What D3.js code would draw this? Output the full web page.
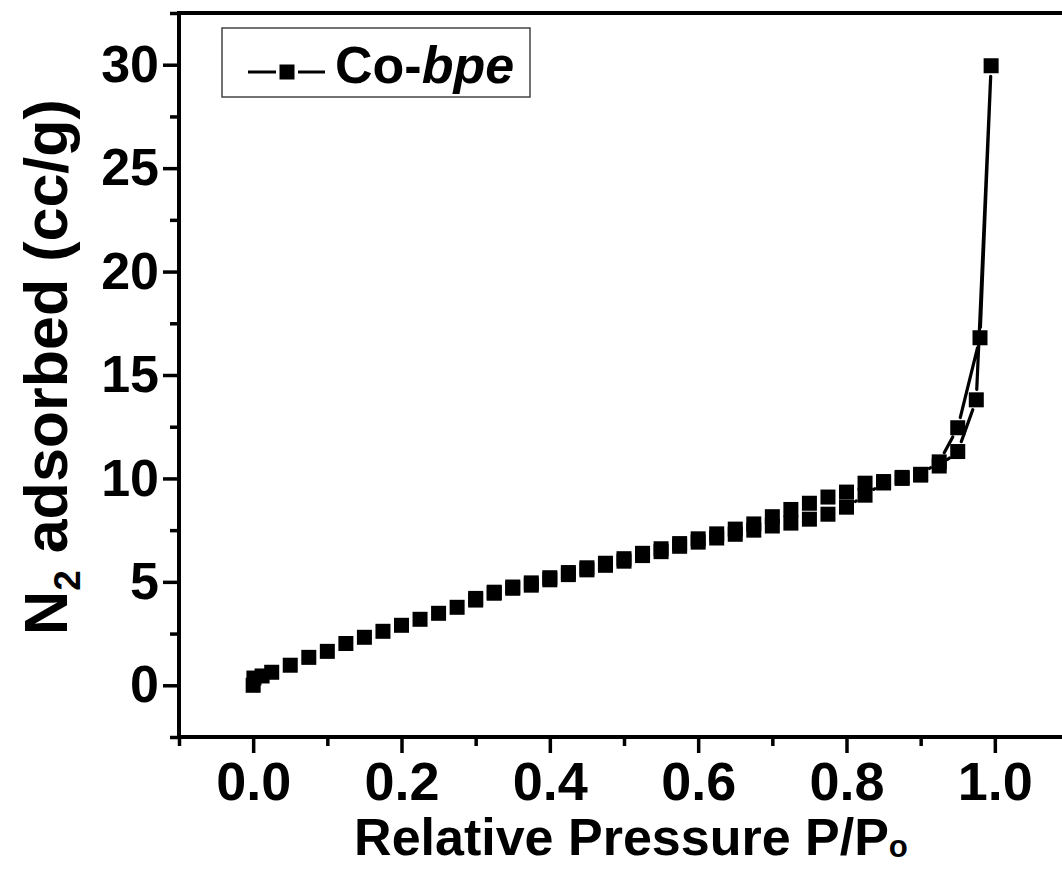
<!DOCTYPE html>
<html>
<head>
<meta charset="utf-8">
<script src="https://cdn.jsdelivr.net/npm/d3@7"></script>
<style>
  html, body { margin: 0; padding: 0; background: #fff; }
  svg { display: block; }
  text { font-family: "Liberation Sans", Arial, sans-serif; font-weight: bold; fill: #000; }
</style>
</head>
<body>
<svg id="chart" width="1062" height="869"></svg>
<script>
// ---- data ----
const adsorptionX = [0.000, 0.001, 0.012, 0.025, 0.050, 0.075, 0.100, 0.125, 0.150, 0.175, 0.200, 0.225, 0.250, 0.275, 0.300, 0.325, 0.350, 0.375, 0.400, 0.425, 0.450, 0.475, 0.500, 0.525, 0.550, 0.575, 0.600, 0.625, 0.650, 0.675, 0.700, 0.725, 0.750, 0.775, 0.800, 0.825, 0.850, 0.875, 0.900, 0.925, 0.950, 0.975, 0.995];
const adsorptionY = [0.00, 0.35, 0.45, 0.63, 0.97, 1.35, 1.64, 2.02, 2.32, 2.61, 2.90, 3.19, 3.48, 3.77, 4.12, 4.45, 4.69, 4.84, 5.10, 5.35, 5.58, 5.80, 6.00, 6.27, 6.46, 6.72, 6.92, 7.12, 7.30, 7.50, 7.70, 7.84, 8.03, 8.27, 8.61, 9.19, 9.78, 10.00, 10.16, 10.60, 11.30, 13.80, 29.95];
const desorptionX = [0.995, 0.980, 0.950, 0.925, 0.900, 0.875, 0.850, 0.825, 0.800, 0.775, 0.750, 0.725, 0.700, 0.675, 0.650, 0.625, 0.600, 0.575, 0.550, 0.525, 0.500, 0.475, 0.450, 0.425, 0.400, 0.375, 0.350, 0.325, 0.300];
const desorptionY = [29.95, 16.80, 12.45, 10.80, 10.20, 10.05, 9.85, 9.77, 9.34, 9.10, 8.80, 8.50, 8.15, 7.80, 7.55, 7.32, 7.08, 6.85, 6.60, 6.38, 6.12, 5.90, 5.68, 5.45, 5.20, 4.95, 4.75, 4.50, 4.20];
const seriesName = ["Co-", "bpe"];
const xTickValues = [0.0, 0.2, 0.4, 0.6, 0.8, 1.0];
const xMinorValues = [-0.1, 0.1, 0.3, 0.5, 0.7, 0.9];
const yTickValues = [0, 5, 10, 15, 20, 25, 30];
const yMinorValues = [-2.5, 2.5, 7.5, 12.5, 17.5, 22.5, 27.5, 32.5];

const svg = d3.select("#chart");
const x = d3.scaleLinear().domain([-0.1, 1.1]).range([179, 1069]);
const y = d3.scaleLinear().domain([-2.5, 32.5]).range([737, 13]);

const FS = 52;
const AXW = 4;

// minor ticks
const gxMinor = svg.append("g").attr("transform", `translate(0,${y(-2.5)})`)
  .call(d3.axisBottom(x).tickValues(xMinorValues).tickSize(9).tickFormat(""));
const gyMinor = svg.append("g").attr("transform", `translate(${x(-0.1)},0)`)
  .call(d3.axisLeft(y).tickValues(yMinorValues).tickSize(9).tickFormat(""));

// major ticks
const gx = svg.append("g").attr("transform", `translate(0,${y(-2.5)})`)
  .call(d3.axisBottom(x).tickValues(xTickValues).tickSize(16).tickPadding(9).tickFormat(d3.format(".1f")));
const gy = svg.append("g").attr("transform", `translate(${x(-0.1)},0)`)
  .call(d3.axisLeft(y).tickValues(yTickValues).tickSize(16).tickPadding(4).tickFormat(d3.format("d")));

[gxMinor, gyMinor, gx, gy].forEach(g => {
  g.selectAll(".domain").remove();
  g.selectAll(".tick line").attr("stroke", "#000").attr("stroke-width", 3.5);
  g.selectAll(".tick text").attr("font-family", '"Liberation Sans", Arial, sans-serif').attr("font-weight", "bold").attr("fill", "#000");
});
gx.selectAll(".tick text").attr("font-size", 54);
gy.selectAll(".tick text").attr("font-size", FS);

// frame: left, bottom, top
const x0 = x(-0.1), x1 = x(1.1), yb = y(-2.5), yt = y(32.5);
svg.append("path")
  .attr("d", `M${x1},${yt} L${x0},${yt} L${x0},${yb} L${x1},${yb}`)
  .attr("fill", "none").attr("stroke", "#000").attr("stroke-width", AXW)
  .attr("stroke-linecap", "square");

// data line with gaps near symbols
const MS = 15;        // marker size
const GAP = MS / 2 + 3;
const pts = adsorptionX.map((v, i) => [x(v), y(adsorptionY[i])])
  .concat(desorptionX.slice(1).map((v, i) => [x(v), y(desorptionY[i + 1])]));
const segs = [];
for (let i = 0; i < pts.length - 1; i++) {
  const [ax, ay] = pts[i], [bx, by] = pts[i + 1];
  const L = Math.hypot(bx - ax, by - ay);
  if (L <= 2 * GAP) continue;
  const ux = (bx - ax) / L, uy = (by - ay) / L;
  segs.push(`M${ax + ux * GAP},${ay + uy * GAP}L${bx - ux * GAP},${by - uy * GAP}`);
}
svg.append("path").attr("d", segs.join("")).attr("fill", "none")
  .attr("stroke", "#000").attr("stroke-width", 3.2).attr("stroke-linecap", "round");

// markers
const allPts = adsorptionX.map((v, i) => ({ x: v, y: adsorptionY[i] }))
  .concat(desorptionX.slice(1).map((v, i) => ({ x: v, y: desorptionY[i + 1] })));
svg.append("g").selectAll("rect").data(allPts).join("rect")
  .attr("x", d => x(d.x) - MS / 2).attr("y", d => y(d.y) - MS / 2)
  .attr("width", MS).attr("height", MS).attr("fill", "#000");

// axis titles
const xt = svg.append("text").attr("x", 631).attr("y", 855).attr("text-anchor", "middle").attr("font-size", FS);
xt.append("tspan").text("Relative Pressure P/P");
xt.append("tspan").attr("font-size", FS * 0.6).attr("dy", 2).text("o");

const yl = svg.append("text").attr("transform", `translate(67,367) rotate(-90)`)
  .attr("text-anchor", "middle").attr("font-size", 61);
yl.append("tspan").text("N");
yl.append("tspan").attr("font-size", 37).attr("dy", 13).text("2");
yl.append("tspan").attr("dy", -13).text(" adsorbed (cc/g)");

// legend
const lg = svg.append("g");
lg.append("rect").attr("x", 222).attr("y", 28).attr("width", 308).attr("height", 69)
  .attr("fill", "#fff").attr("stroke", "#444").attr("stroke-width", 1.5);
lg.append("path").attr("d", "M248,72L276,72M298,72L325,72").attr("stroke", "#000").attr("stroke-width", 3.2);
lg.append("rect").attr("x", 287 - MS / 2).attr("y", 72 - MS / 2).attr("width", MS).attr("height", MS).attr("fill", "#000");
const lt = lg.append("text").attr("x", 335).attr("y", 83).attr("font-size", FS);
lt.append("tspan").text(seriesName[0]);
lt.append("tspan").attr("font-style", "italic").text(seriesName[1]);
</script>
</body>
</html>
